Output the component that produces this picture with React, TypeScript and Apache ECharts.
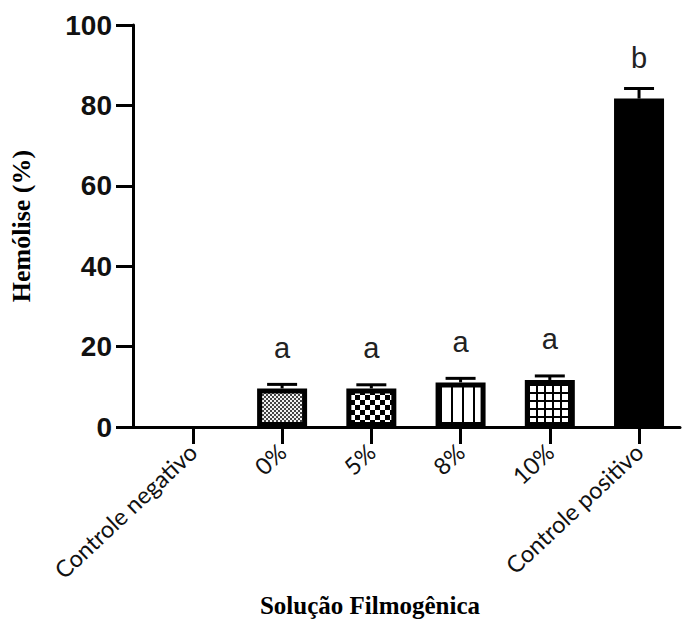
import React, { useEffect, useRef } from "react";
import * as echarts from "echarts";

const categories = ["Controle negativo", "0%", "5%", "8%", "10%", "Controle positivo"];
const hemolysis = [0, 9.6, 9.6, 11.1, 11.7, 81.7];
const errors = [0, 1.0, 0.9, 1.0, 1.0, 2.5];
const letters = ["", "a", "a", "a", "a", "b"];
const yTicks = [0, 20, 40, 60, 80, 100];

function makePattern(kind: string) {
  const c = document.createElement("canvas");
  const ctx = c.getContext("2d")!;
  if (kind === "fine") {
    c.width = 4; c.height = 4;
    ctx.fillStyle = "#f2f2f2"; ctx.fillRect(0, 0, 4, 4);
    ctx.fillStyle = "#444"; ctx.fillRect(0, 0, 2, 2); ctx.fillRect(2, 2, 2, 2);
  } else if (kind === "checker") {
    c.width = 10; c.height = 10;
    ctx.fillStyle = "#fff"; ctx.fillRect(0, 0, 10, 10);
    ctx.fillStyle = "#000"; ctx.fillRect(0, 0, 5, 5); ctx.fillRect(5, 5, 5, 5);
  } else if (kind === "vlines") {
    c.width = 11; c.height = 4;
    ctx.fillStyle = "#fff"; ctx.fillRect(0, 0, 11, 4);
    ctx.fillStyle = "#000"; ctx.fillRect(0, 0, 2, 4);
  } else {
    c.width = 8; c.height = 8;
    ctx.fillStyle = "#fff"; ctx.fillRect(0, 0, 8, 8);
    ctx.fillStyle = "#000"; ctx.fillRect(0, 0, 2, 8); ctx.fillRect(0, 0, 8, 2);
  }
  return { image: c, repeat: "repeat", imageWidth: c.width, imageHeight: c.height };
}

export default function App() {
  const ref = useRef<HTMLDivElement>(null);
  useEffect(() => {
    const chart = echarts.init(ref.current!, undefined, { renderer: "svg" });
    const fills: any[] = [
      "#fff",
      makePattern("fine"),
      makePattern("checker"),
      makePattern("vlines"),
      makePattern("grid"),
      "#000",
    ];
    const barData = hemolysis.map((v, i) => ({
      value: [i, v],
      itemStyle: { color: fills[i], borderColor: "#000", borderWidth: v > 0 ? 5 : 0 },
      label: { formatter: letters[i] },
    }));
    const errData = hemolysis.map((v, i) => [i, v, v + errors[i]]).filter((d, i) => errors[i] > 0);
    chart.setOption({
      animation: false,
      grid: { left: 132, right: 12, top: 25, bottom: 193 },
      xAxis: {
        type: "value",
        min: -0.671,
        max: 5.459,
        splitLine: { show: false },
        axisLine: { show: true, onZero: false, lineStyle: { color: "#000", width: 3 } },
        axisTick: {
          show: true,
          customValues: categories.map((_, i) => i),
          length: 17,
          lineStyle: { color: "#000", width: 3 },
        },
        axisLabel: {
          customValues: categories.map((_, i) => i),
          formatter: (v: number) => categories[Math.round(v)],
          rotate: 43,
          margin: 21,
          fontFamily: "Lato",
          fontSize: 23.5,
          color: "#111",
        },
      },
      yAxis: {
        type: "value",
        min: 0,
        max: 100,
        interval: 20,
        name: "Hemólise (%)",
        nameLocation: "middle",
        nameGap: 99,
        nameTextStyle: { fontFamily: "Liberation Serif", fontWeight: "bold", fontSize: 26, color: "#000" },
        splitLine: { show: false },
        axisLine: { show: true, onZero: false, lineStyle: { color: "#000", width: 3 } },
        axisTick: { show: true, length: 17, lineStyle: { color: "#000", width: 3 } },
        axisLabel: {
          margin: 21,
          fontFamily: "Liberation Sans",
          fontWeight: "bold",
          fontSize: 28,
          color: "#111",
          formatter: (v: number) => (yTicks.includes(v) ? String(v) : ""),
        },
      },
      title: {
        text: "Solução Filmogênica",
        left: 365,
        top: 586,
        textAlign: "center",
        textStyle: { fontFamily: "Liberation Serif", fontWeight: "bold", fontSize: 25, lineHeight: 28, color: "#000" },
      },
      series: [
        {
          type: "bar",
          barWidth: 50,
          data: barData,
          label: {
            show: true,
            position: "top",
            distance: 26,
            fontFamily: "Liberation Sans",
            fontSize: 29,
            color: "#222",
          },
          z: 2,
        },
        {
          type: "custom",
          z: 3,
          data: errData,
          renderItem: (params: any, api: any) => {
            const x = api.value(0);
            const p0 = api.coord([x, api.value(1)]);
            const p1 = api.coord([x, api.value(2)]);
            const hw = 15;
            const style = { stroke: "#000", lineWidth: 3 };
            return {
              type: "group",
              children: [
                { type: "line", shape: { x1: p0[0], y1: p0[1], x2: p1[0], y2: p1[1] }, style },
                { type: "line", shape: { x1: p1[0] - hw, y1: p1[1], x2: p1[0] + hw, y2: p1[1] }, style },
              ],
            };
          },
        },
      ],
    });
    return () => chart.dispose();
  }, []);
  return <div ref={ref} style={{ width: 692, height: 620, position: "absolute", left: 0, top: 0 }} />;
}
